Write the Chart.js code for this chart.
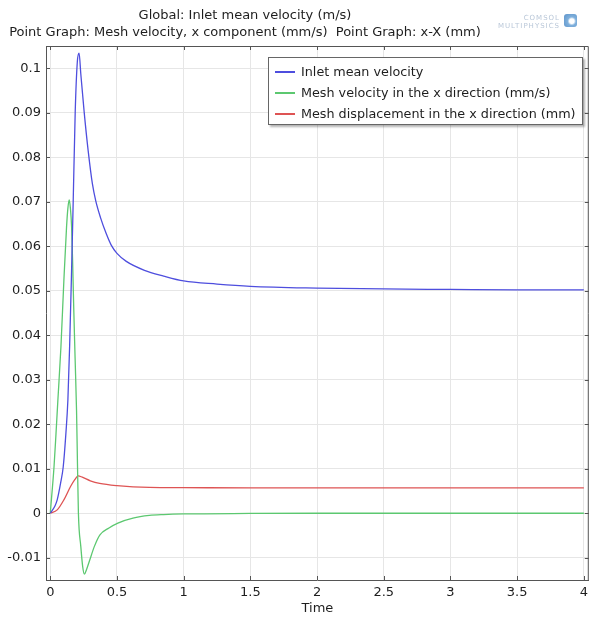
<!DOCTYPE html>
<html>
<head>
<meta charset="utf-8">
<title>Inlet mean velocity and mesh motion</title>
<script src="https://cdn.jsdelivr.net/npm/chart.js@4.4.0/dist/chart.umd.min.js"></script>
<style>
  html, body { margin: 0; padding: 0; background: #fff; }
  #wrap { position: relative; width: 593px; height: 620px; font-family: 'DejaVu Sans', sans-serif; color: #1e1e1e; }
  #titles { position: absolute; left: 0; top: 6px; width: 490px; text-align: center; font-size: 13px; line-height: 17px; white-space: nowrap; }
  #logo { position: absolute; left: 480px; width: 80px; top: 14px; font-size: 7px; line-height: 8px; color: #b9c7d8; text-align: right; letter-spacing: 1px; }
  #logoIcon { position: absolute; left: 564px; top: 14px; width: 13px; height: 13px; border-radius: 3px;
              background: radial-gradient(circle at 60% 55%, #ffffff 0 22%, #6aa3d6 40%, #3f7fc0 100%); opacity: 0.85; }
  #legend { position: absolute; left: 268px; top: 57px; width: 313px; height: 66px; background: #fff;
            border: 1px solid #666; box-shadow: 2px 2px 2px rgba(0,0,0,0.3); font-size: 12.75px; }
  .item { position: absolute; left: 6px; height: 21px; display: flex; align-items: center; white-space: nowrap; }
  .swatch { display: inline-block; width: 20px; height: 2px; margin-right: 6px; }
</style>
</head>
<body>
<div id="wrap">
  <canvas id="myChart" width="593" height="620"></canvas>
  <div id="titles">
    <div>Global: Inlet mean velocity (m/s)</div>
    <div>Point Graph: Mesh velocity, x component (mm/s)&nbsp; Point Graph: x-X (mm)</div>
  </div>
  <div id="logo">COMSOL<br>MULTIPHYSICS</div>
  <div id="logoIcon"></div>
  <div id="legend"></div>
</div>
<script>
/* ~~~~~~~~~~ DATA ~~~~~~~~~~*/

// Global: inlet mean velocity (m/s)
const inletTime = [0, 0.033, 0.052, 0.077, 0.097, 0.117, 0.132, 0.145, 0.158, 0.172, 0.187, 0.203, 0.216, 0.229,
  0.254, 0.284, 0.316, 0.341, 0.376, 0.42, 0.458, 0.5, 0.57, 0.706, 0.85, 1.0, 1.25, 1.5, 2, 2.5, 3, 3.5, 4];
const inletVelocity = [0, 0.0015, 0.003, 0.0067, 0.0104, 0.0179, 0.0254, 0.0374, 0.0523, 0.0702, 0.0902, 0.1015, 0.1034, 0.0987,
  0.0902, 0.0815, 0.074, 0.0702, 0.0665, 0.0628, 0.0602, 0.0584, 0.0566, 0.0546, 0.0533, 0.0522, 0.0515, 0.0510, 0.0506, 0.0504, 0.0503, 0.0502, 0.0502];

// Point graph: mesh velocity, x component (mm/s)
const meshVelTime = [0, 0.028, 0.043, 0.057, 0.08, 0.102, 0.122, 0.132, 0.142, 0.151, 0.16, 0.168, 0.176, 0.186, 0.197, 0.204,
  0.211, 0.229, 0.243, 0.256, 0.27, 0.296, 0.33, 0.371, 0.44, 0.507, 0.62, 0.743, 0.85, 1.0, 1.5, 2, 3, 4];
const meshVelocity = [0, 0.0104, 0.0179, 0.0254, 0.0374, 0.0523, 0.0643, 0.0685, 0.0704, 0.0685, 0.0643, 0.056, 0.046, 0.035, 0.023, 0.011,
  0, -0.0075, -0.012, -0.0137, -0.0128, -0.0105, -0.0075, -0.0049, -0.0033, -0.0022, -0.0011, -0.0005, -0.0003, -0.00016, -0.00005, 0, 0, 0];

// Point graph: x-X (mm)
const meshDispTime = [0, 0.052, 0.102, 0.152, 0.185, 0.209, 0.24, 0.3, 0.37, 0.5, 0.743, 1.0, 1.5, 2, 3, 4];
const meshDisplacement = [0, 0.00075, 0.003, 0.006, 0.0076, 0.0084, 0.0081, 0.0073, 0.0067, 0.0062,
  0.0058, 0.00575, 0.0057, 0.0057, 0.0057, 0.0057];

const seriesLabels = [
  'Inlet mean velocity',
  'Mesh velocity in the x direction (mm/s)',
  'Mesh displacement in the x direction (mm)'
];
const seriesColors = ['#4e4ede', '#5cc870', '#de5454'];

const xTicks = [0, 0.5, 1, 1.5, 2, 2.5, 3, 3.5, 4];
const yTicks = [-0.01, 0, 0.01, 0.02, 0.03, 0.04, 0.05, 0.06, 0.07, 0.08, 0.09, 0.1];

/* ~~~~~~~~~~ HELPERS ~~~~~~~~~~*/

const toPoints = (xs, ys) => xs.map((x, i) => ({ x: x, y: ys[i] }));
const fmt = (v) => String(+v.toFixed(3));

// COMSOL-style frame: closes the box and puts small ticks inside on all four sides
const framePlugin = {
  id: 'frame',
  afterDraw(chart) {
    const { ctx, chartArea: a, scales } = chart;
    const len = 4;
    ctx.save();
    ctx.strokeStyle = '#555';
    ctx.lineWidth = 1;
    ctx.beginPath();
    ctx.moveTo(a.left, a.top + 0.5);
    ctx.lineTo(a.right - 0.5, a.top + 0.5);
    ctx.lineTo(a.right - 0.5, a.bottom);
    scales.x.ticks.forEach((t) => {
      const px = Math.round(scales.x.getPixelForValue(t.value)) + 0.5;
      ctx.moveTo(px, a.top); ctx.lineTo(px, a.top + len);
      ctx.moveTo(px, a.bottom); ctx.lineTo(px, a.bottom - len);
    });
    scales.y.ticks.forEach((t) => {
      const py = Math.round(scales.y.getPixelForValue(t.value)) + 0.5;
      ctx.moveTo(a.left, py); ctx.lineTo(a.left + len, py);
      ctx.moveTo(a.right, py); ctx.lineTo(a.right - len, py);
    });
    ctx.stroke();
    ctx.restore();
  }
};

/* ~~~~~~~~~~ CHART ~~~~~~~~~~*/

Chart.defaults.font.family = "'DejaVu Sans', sans-serif";
Chart.defaults.font.size = 13;
Chart.defaults.color = '#1e1e1e';

const seriesData = [
  toPoints(inletTime, inletVelocity),
  toPoints(meshVelTime, meshVelocity),
  toPoints(meshDispTime, meshDisplacement)
];

const ctx = document.getElementById('myChart').getContext('2d');
const chart = new Chart(ctx, {
  type: 'line',
  data: {
    datasets: seriesData.map((d, i) => ({
      label: seriesLabels[i],
      data: d,
      borderColor: seriesColors[i],
      backgroundColor: seriesColors[i],
      borderWidth: 1.3,
      pointRadius: 0,
      fill: false,
      cubicInterpolationMode: 'monotone'
    }))
  },
  options: {
    responsive: false,
    animation: false,
    devicePixelRatio: 1,
    layout: { padding: { top: 46, right: 2, left: 0, bottom: 0 } },
    plugins: { legend: { display: false }, tooltip: { enabled: false } },
    scales: {
      x: {
        type: 'linear',
        min: -0.032,
        max: 4.037,
        afterBuildTicks: (s) => { s.ticks = xTicks.map((v) => ({ value: v })); },
        afterFit: (s) => { s.height = 40; },
        grid: { color: '#e6e6e6', drawTicks: false },
        border: { color: '#555' },
        ticks: { padding: 5, callback: fmt, maxRotation: 0 },
        title: { display: true, text: 'Time', padding: { top: 0, bottom: 4 } }
      },
      y: {
        type: 'linear',
        min: -0.015,
        max: 0.105,
        afterBuildTicks: (s) => { s.ticks = yTicks.map((v) => ({ value: v })); },
        afterFit: (s) => { s.width = 46; },
        grid: { color: '#e6e6e6', drawTicks: false },
        border: { color: '#555' },
        ticks: { padding: 5, callback: fmt }
      }
    }
  },
  plugins: [framePlugin]
});

// legend box inside the plot, built from the datasets
const legendBox = document.getElementById('legend');
chart.data.datasets.forEach((ds, i) => {
  const item = document.createElement('div');
  item.className = 'item';
  item.style.top = (3 + i * 21) + 'px';
  const swatch = document.createElement('span');
  swatch.className = 'swatch';
  swatch.style.background = ds.borderColor;
  item.appendChild(swatch);
  item.appendChild(document.createTextNode(ds.label));
  legendBox.appendChild(item);
});
</script>
</body>
</html>
